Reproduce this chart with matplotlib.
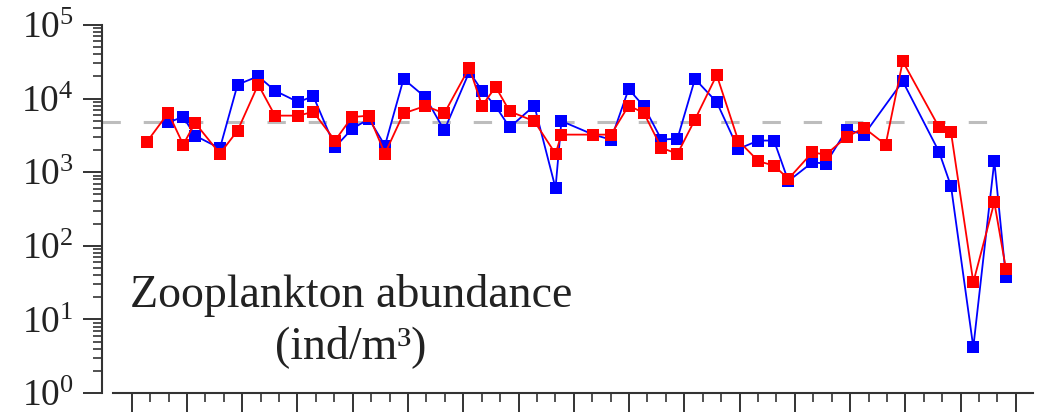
import matplotlib

matplotlib.use("Agg")
import matplotlib.pyplot as plt
from matplotlib.ticker import FixedLocator, LogLocator, NullFormatter, LogFormatterMathtext

plt.rcParams["font.family"] = ["Liberation Serif", "DejaVu Serif"]
plt.rcParams["mathtext.fontset"] = "custom"
plt.rcParams["mathtext.rm"] = "Liberation Serif"
plt.rcParams["mathtext.it"] = "Liberation Serif:italic"

# station positions (x axis units: one minor tick = 1)
station_red = [0.81, 1.99, 2.80, 3.44, 4.79, 5.75, 6.87, 7.78, 9.04, 9.86,
               11.04, 11.96, 12.88, 13.75, 14.76, 15.95, 16.97, 18.33, 19.02, 19.76,
               20.52, 21.86, 23.01, 23.33, 25.06, 26.02, 26.98, 27.80, 28.76, 29.63,
               30.58, 31.76, 32.93, 34.02, 34.87, 35.65, 36.95, 37.68, 38.82, 39.76,
               40.93, 41.86, 43.83, 44.48, 45.69, 46.83, 47.46]
abund_red = [2550, 6400, 2370, 4680, 1790, 3670, 15500, 5870, 5870, 6600,
             2690, 5610, 5870, 1790, 6290, 7960, 6290, 26400, 8000, 14400,
             6720, 4920, 1780, 3240, 3240, 3240, 8030, 6400, 2140, 1780,
             5190, 20900, 2690, 1410, 1230, 811, 1860, 1730, 3020, 4000,
             2370, 32100, 4070, 3480, 31.9, 390, 48.5]

station_blue = [1.99, 2.80, 3.44, 4.79, 5.75, 6.87, 7.78, 9.04, 9.86,
                11.04, 11.96, 12.88, 13.75, 14.76, 15.95, 16.97, 18.33, 19.02, 19.76,
                20.52, 21.86, 23.01, 23.33, 25.06, 26.02, 26.98, 27.80, 28.76, 29.63,
                30.58, 31.76, 32.93, 34.02, 34.87, 35.65, 36.95, 37.68, 38.82, 39.76,
                41.86, 43.83, 44.48, 45.69, 46.83, 47.46]
abund_blue = [4760, 5640, 3140, 2110, 15500, 20100, 12800, 8960, 10800,
              2190, 3870, 5300, 2300, 18500, 10400, 3700, 23100, 12800, 7860,
              4070, 8030, 608, 4950, 3240, 2770, 13500, 7860, 2770, 2860,
              18500, 8960, 2070, 2690, 2690, 757, 1360, 1310, 3790, 3240,
              17200, 1890, 643, 4.18, 1410, 37.3]

threshold = 4800
x_major = list(range(0, 49, 3))
x_minor = list(range(0, 49))

fig = plt.figure(figsize=(10.38, 4.19), dpi=100)
ax = fig.add_axes([102 / 1038, 26 / 419, 931 / 1038, 368 / 419])

ax.plot([-1.61, station_red[-1]], [threshold, threshold], color="#bdbdbd",
        lw=2.2, dashes=(6, 7.5), zorder=1)
ax.plot(station_blue, abund_blue, color="#0000ff", lw=1.3, marker="s",
        ms=8, mew=0, zorder=2)
ax.plot(station_red, abund_red, color="#ff0000", lw=1.3, marker="s",
        ms=8, mew=0, zorder=3)

ax.set_yscale("log")
ax.set_ylim(1, 1e5)
ax.set_xlim(-1.61, 48.93)

ax.yaxis.set_major_locator(LogLocator(base=10, numticks=10))
ax.yaxis.set_minor_locator(LogLocator(base=10, subs=range(2, 10), numticks=20))
ax.yaxis.set_major_formatter(LogFormatterMathtext())
ax.yaxis.set_minor_formatter(NullFormatter())
ax.xaxis.set_major_locator(FixedLocator(x_major))
ax.xaxis.set_minor_locator(FixedLocator(x_minor))
ax.xaxis.set_major_formatter(NullFormatter())

for side in ("top", "right"):
    ax.spines[side].set_visible(False)
for side in ("left", "bottom"):
    ax.spines[side].set_color("#333333")
    ax.spines[side].set_linewidth(1.5)
ax.spines["bottom"].set_bounds(-1.02, 48.93)

ax.tick_params(which="major", direction="out", length=13.5, width=1.4,
               color="#333333", labelsize=27, labelcolor="#222222", pad=7)
ax.tick_params(which="minor", direction="out", length=6.5, width=1.2,
               color="#333333")

fig.text(351 / 1038, (419 - 307) / 419, "Zooplankton abundance",
         ha="center", va="baseline", fontsize=33, color="#222222")
fig.text(351 / 1038, (419 - 358) / 419, "(ind/m³)",
         ha="center", va="baseline", fontsize=33, color="#222222")

fig.savefig("out.png", dpi=100)
